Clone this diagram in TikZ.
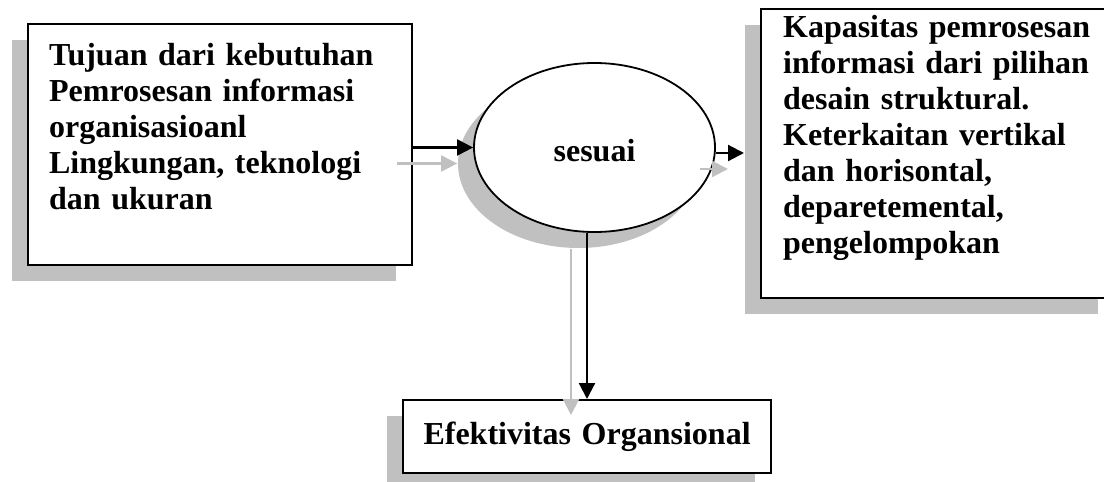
\documentclass[tikz,border=0pt]{standalone}
\usepackage{fontspec}
\setmainfont{Liberation Serif}
\usetikzlibrary{shapes.geometric,shadows,arrows.meta}
\definecolor{shadowgray}{HTML}{C0C0C0}
\begin{document}
\begin{tikzpicture}[x=1pt,y=-1pt,
  font=\bfseries\fontsize{32}{36}\selectfont,
  boxshadow/.style={drop shadow={shadow xshift=-16pt,shadow yshift=-16pt,fill=shadowgray,opacity=1}},
  textbox/.style={rectangle,draw=black,line width=2.2pt,fill=white,inner ysep=0pt,boxshadow},
  arr/.style={line width=2.2pt,-{Triangle[length=16pt,width=16pt]}},
  shadowarr/.style={arr,draw=shadowgray,fill=shadowgray,transform canvas={xshift=-16pt,yshift=-16pt}}]
\useasboundingbox (0,0) rectangle (1104,482);

% input requirements
\node[textbox,anchor=north west,align=left,text width=342pt,inner xsep=21pt,
      text height=41.5pt,text depth=199.5pt] (L) at (27,23)
  {Tujuan dari kebutuhan\\Pemrosesan informasi\\organisasioanl\\Lingkungan, teknologi\\dan ukuran};

% structural design capacity
\node[textbox,anchor=north west,align=left,text width=309pt,inner xsep=22pt,
      text height=28.2pt,text depth=260.8pt] (R) at (760,8)
  {Kapasitas pemrosesan\\informasi dari pilihan\\desain struktural.\\Keterkaitan vertikal\\dan horisontal,\\deparetemental,\\pengelompokan};

% outcome
\node[textbox,anchor=north west,align=center,text width=368pt,inner xsep=0pt,
      text height=44pt,text depth=29pt] (B) at (402,399)
  {Efektivitas Organsional};

% fit
\node[ellipse,draw=black,line width=1.8pt,fill=white,minimum width=241pt,minimum height=169pt,
      inner sep=0pt,boxshadow,text height=28.4pt,text depth=0pt] (E) at (594.5,147.5) {sesuai};

\coordinate (eo) at ([yshift=-5.5pt]E.east);
\coordinate (es) at ([xshift=-7.5pt]E.south);

% shaded copies of the connectors
\draw[shadowarr] (L.east |- E.west) -- (E.west);
\draw[shadowarr,shorten >=16pt] (eo) -- (eo -| R.west);
\draw[shadowarr] (es) -- (es |- B.north);

% connectors
\draw[arr] (L.east |- E.west) -- (E.west);
\draw[arr,shorten >=16pt] (eo) -- (eo -| R.west);
\draw[arr] (es) -- (es |- B.north);
\end{tikzpicture}
\end{document}
